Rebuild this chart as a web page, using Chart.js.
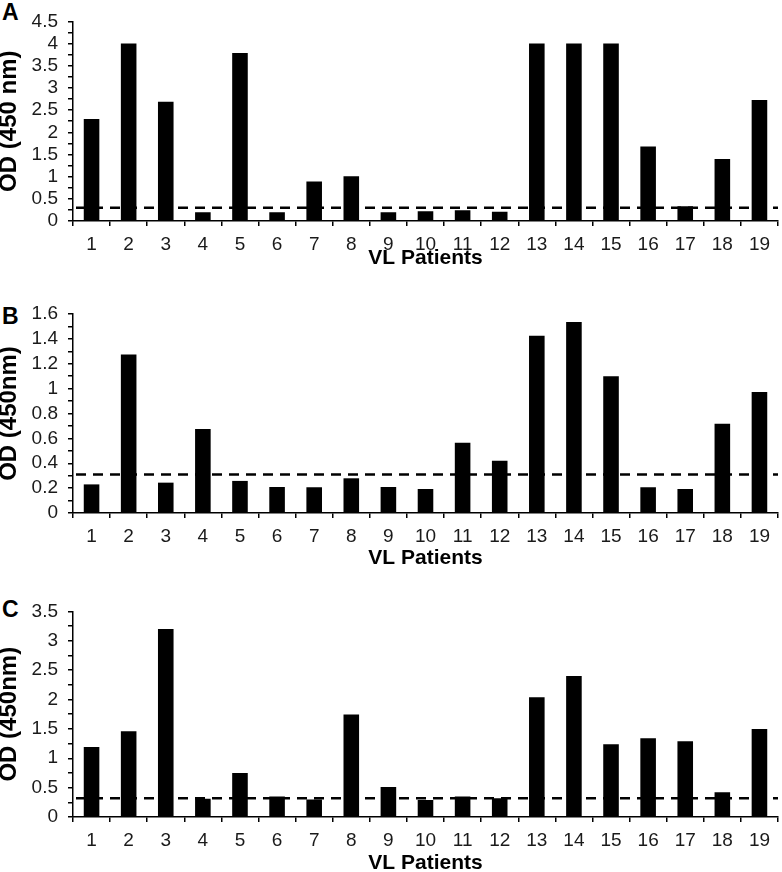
<!DOCTYPE html>
<html>
<head>
<meta charset="utf-8">
<script src="https://cdn.jsdelivr.net/npm/chart.js@4.4.1/dist/chart.umd.min.js"></script>
<style>
  body { margin: 0; background: #fff; width: 782px; height: 872px; position: relative; overflow: hidden;
         font-family: "Liberation Sans", Arial, sans-serif; }
  .panel { position: absolute; left: 0; }
  .letter { position: absolute; left: 2px; font-weight: bold; font-size: 23px; line-height: 23px; color: #000; }
</style>
</head>
<body>
<div class="letter" style="top:1px">A</div>
<div class="letter" style="top:305px">B</div>
<div class="letter" style="top:598px">C</div>
<canvas id="chartA" class="panel" width="782" height="272" style="top:0px"></canvas>
<canvas id="chartB" class="panel" width="782" height="282" style="top:290px"></canvas>
<canvas id="chartC" class="panel" width="782" height="287" style="top:590px"></canvas>
<script>
// patients on the x axis
const patients = ['1','2','3','4','5','6','7','8','9','10','11','12','13','14','15','16','17','18','19'];

// OD values
const odA = [2.30, 4.00, 2.69, 0.20, 3.79, 0.20, 0.89, 1.01, 0.20, 0.22, 0.24, 0.21, 4.00, 4.00, 4.00, 1.68, 0.33, 1.40, 2.73];
const odB = [0.23, 1.275, 0.244, 0.676, 0.258, 0.209, 0.207, 0.279, 0.209, 0.193, 0.564, 0.421, 1.425, 1.535, 1.10, 0.207, 0.193, 0.717, 0.972];
const odC = [1.19, 1.46, 3.20, 0.31, 0.75, 0.35, 0.30, 1.745, 0.51, 0.29, 0.35, 0.32, 2.04, 2.40, 1.24, 1.34, 1.29, 0.42, 1.50];

// cut-off (dashed line) per panel
const cutoffs = [0.30, 0.31, 0.32];

// y axis ranges: max, labelled step, minor step
const yMax = [4.5, 1.6, 3.5];
const yStep = [0.5, 0.2, 0.5];
const yMinor = [0.25, 0.1, 0.25];

const yTitles = ['OD (450 nm)', 'OD (450nm)', 'OD (450nm)'];

// dashed cut-off line drawn across the plot area
const cutoffLine = {
    id: 'cutoffLine',
    afterDatasetsDraw(chart, args, opts) {
        const { ctx, chartArea, scales } = chart;
        const y = scales.y.getPixelForValue(opts.value);
        ctx.save();
        ctx.strokeStyle = '#000';
        ctx.lineWidth = 2.5;
        ctx.setLineDash([10, 7]);
        ctx.beginPath();
        ctx.moveTo(chartArea.left + 3, y);
        ctx.lineTo(chartArea.right, y);
        ctx.stroke();
        ctx.restore();
    }
};

function makeChart(id, values, i, padTop, xAxisH) {
    const major = yStep[i];
    return new Chart(document.getElementById(id), {
        type: 'bar',
        data: {
            labels: patients,
            datasets: [{
                data: values,
                backgroundColor: '#000',
                borderWidth: 0,
                barPercentage: 0.42,
                categoryPercentage: 1.0
            }]
        },
        options: {
            responsive: false,
            animation: false,
            layout: { padding: { top: padTop, right: 4, left: 0, bottom: 0 } },
            plugins: {
                legend: { display: false },
                tooltip: { enabled: false },
                cutoffLine: { value: cutoffs[i] }
            },
            scales: {
                x: {
                    afterFit: s => { s.height = xAxisH; },
                    grid: { offset: true, drawOnChartArea: false, drawTicks: true, tickLength: 5, color: '#000', lineWidth: 1.5 },
                    border: { display: true, color: '#000', width: 1.5 },
                    ticks: { color: '#1a1a1a', font: { family: 'Liberation Sans', size: 19 }, padding: 7, maxRotation: 0 },
                    title: {
                        display: true, text: 'VL Patients', color: '#000',
                        font: { family: 'Liberation Sans', size: 21, weight: 'bold' },
                        padding: { top: 0, bottom: 1 }
                    }
                },
                y: {
                    min: 0,
                    max: yMax[i],
                    afterFit: s => { s.width = 73; },
                    grid: { drawOnChartArea: false, drawTicks: true, tickLength: 5, color: '#000', lineWidth: 1.5 },
                    border: { display: true, color: '#000', width: 1.5 },
                    ticks: {
                        stepSize: yMinor[i],
                        autoSkip: false,
                        color: '#1a1a1a',
                        padding: 10,
                        font: { family: 'Liberation Sans', size: 19 },
                        callback: v => {
                            const r = v / major;
                            return Math.abs(r - Math.round(r)) < 1e-6 ? String(+v.toFixed(2)) : '';
                        }
                    },
                    title: {
                        display: true, text: yTitles[i], color: '#000',
                        font: { family: 'Liberation Sans', size: 24, weight: 'bold', lineHeight: 1 },
                        padding: { top: -3, bottom: 0 }
                    }
                }
            }
        },
        plugins: [cutoffLine]
    });
}

makeChart('chartA', odA, 0, 10, 51);
makeChart('chartB', odB, 1, 24, 59);
makeChart('chartC', odC, 2, 15, 60);
</script>
</body>
</html>
